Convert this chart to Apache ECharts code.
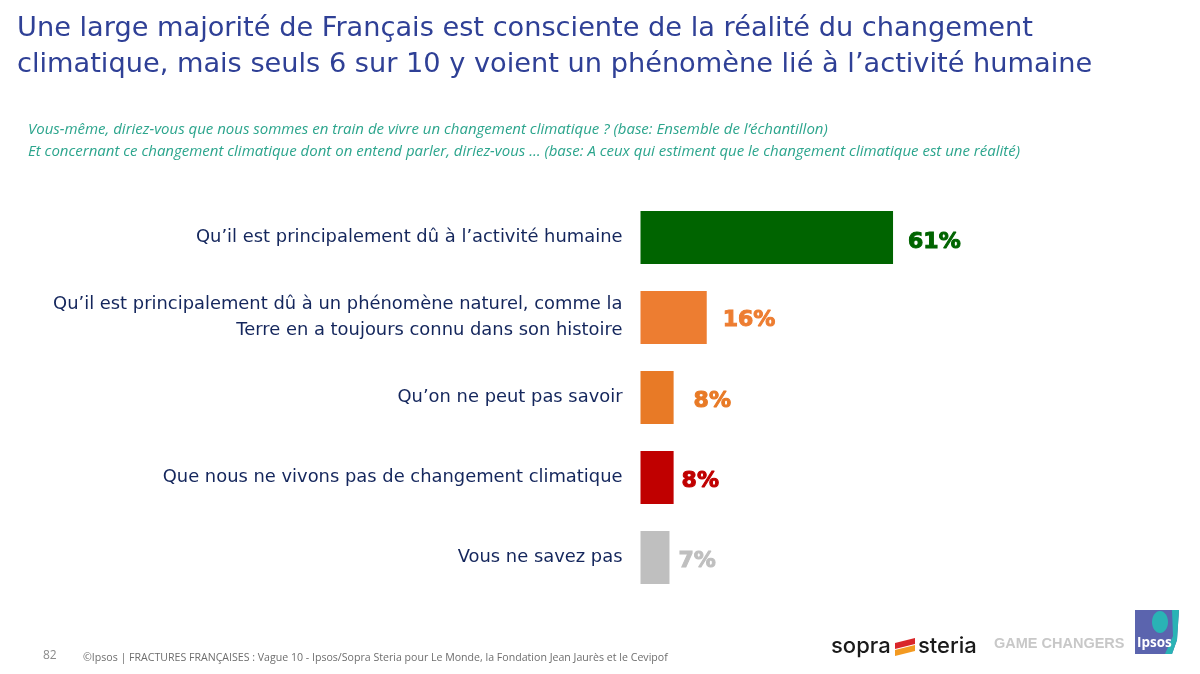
<!DOCTYPE html>
<html>
<head>
<meta charset="utf-8">
<title>Fractures françaises</title>
<script src="https://cdn.jsdelivr.net/npm/echarts@6/dist/echarts.min.js"></script>
<style>
  html, body { margin: 0; padding: 0; background: #fff; }
  #main { width: 1200px; height: 674px; }
</style>
</head>
<body>
<div id="main"></div>
<script>
var categories = [
  'Qu’il est principalement dû à l’activité humaine',
  'Qu’il est principalement dû à un phénomène naturel, comme la\nTerre en a toujours connu dans son histoire',
  'Qu’on ne peut pas savoir',
  'Que nous ne vivons pas de changement climatique',
  'Vous ne savez pas'
];
var values = [61, 16, 8, 8, 7];
var barColors = ['#006400', '#ED7D31', '#E87A26', '#C00000', '#BFBFBF'];
var labelGaps = [15, 16, 20, 8, 9];
var labelDrops = [5, 3, 4, 4, 4];

var titleText = 'Une large majorité de Français est consciente de la réalité du changement\nclimatique, mais seuls 6 sur 10 y voient un phénomène lié à l’activité humaine';
var questionText = 'Vous-même, diriez-vous que nous sommes en train de vivre un changement climatique ? (base: Ensemble de l’échantillon)\nEt concernant ce changement climatique dont on entend parler, diriez-vous … (base: A ceux qui estiment que le changement climatique est une réalité)';
var footerText = '©Ipsos | FRACTURES FRANÇAISES : Vague 10 - Ipsos/Sopra Steria pour Le Monde, la Fondation Jean Jaurès et le Cevipof';

var myChart = echarts.init(document.getElementById('main'));

var seriesData = values.map(function (v, i) {
  return {
    value: v,
    itemStyle: { color: barColors[i] },
    label: {
      color: barColors[i],
      distance: labelGaps[i],
      offset: [0, labelDrops[i]],
      textBorderColor: barColors[i],
      textBorderWidth: 1
    }
  };
});

var option = {
  animation: false,
  backgroundColor: '#fff',
  title: [
    {
      text: titleText, left: 12, top: 6,
      textStyle: { fontFamily: 'DejaVu Sans', fontSize: 27.2, fontWeight: 'normal', color: '#2F4096', lineHeight: 36 }
    },
    {
      text: questionText, left: 23, top: 114,
      textStyle: { fontFamily: 'Open Sans', fontSize: 15, fontStyle: 'italic', fontWeight: 'normal', color: '#2CA58D', lineHeight: 22 }
    },
    {
      text: '82', left: 38, top: 645,
      textStyle: { fontFamily: 'Open Sans', fontSize: 12, fontWeight: 'normal', color: '#8A8A8A' }
    },
    {
      text: footerText, left: 78, top: 647,
      textStyle: { fontFamily: 'Open Sans', fontSize: 10.6, fontWeight: 'normal', color: '#6E6E6E' }
    }
  ],
  grid: { left: 640.5, top: 197.5, width: 414, height: 400 },
  xAxis: { type: 'value', min: 0, max: 100, show: false },
  yAxis: {
    type: 'category',
    inverse: true,
    data: categories,
    axisLine: { show: false },
    axisTick: { show: false },
    axisLabel: {
      margin: 18,
      align: 'right',
      fontFamily: 'DejaVu Sans',
      fontSize: 17.9,
      lineHeight: 26,
      color: '#14265C'
    }
  },
  series: [{
    type: 'bar',
    barWidth: 53,
    data: seriesData,
    label: {
      show: true,
      position: 'right',
      formatter: '{c}%',
      fontFamily: 'DejaVu Sans',
      fontWeight: 'bold',
      fontSize: 22
    }
  }],
  // logos du bas de page
  graphic: [
    { type: 'text', left: 831, top: 635, style: { text: 'sopra', font: '500 22px "Inter"', fill: '#1a1a1a' } },
    { type: 'polygon', shape: { points: [[895, 643], [915, 638], [915, 644], [895, 649]] }, style: { fill: '#D9262A' } },
    { type: 'polygon', shape: { points: [[895, 650], [915, 645], [915, 651], [895, 656]] }, style: { fill: '#F39A21' } },
    { type: 'text', left: 918, top: 635, style: { text: 'steria', font: '500 22px "Inter"', fill: '#1a1a1a' } },
    { type: 'text', left: 994, top: 636, style: { text: 'GAME CHANGERS', font: 'bold 14.5px "Liberation Sans"', fill: '#C8C8C8' } },
    { type: 'polygon', shape: { points: [[1135, 610], [1179, 610], [1177, 640], [1172, 654], [1135, 654]] }, style: { fill: '#5B64AE' } },
    { type: 'polygon', shape: { points: [[1172, 610], [1179, 610], [1177, 640], [1172, 654], [1165, 654], [1173, 636]] }, style: { fill: '#2AB3B5' } },
    { type: 'ellipse', shape: { cx: 1160, cy: 622, rx: 8, ry: 11 }, style: { fill: '#2AB3B5' } },
    { type: 'text', left: 1137, top: 636, style: { text: 'Ipsos', font: 'bold 13.5px "Open Sans"', fill: '#fff' } }
  ]
};

myChart.setOption(option);
</script>
</body>
</html>
